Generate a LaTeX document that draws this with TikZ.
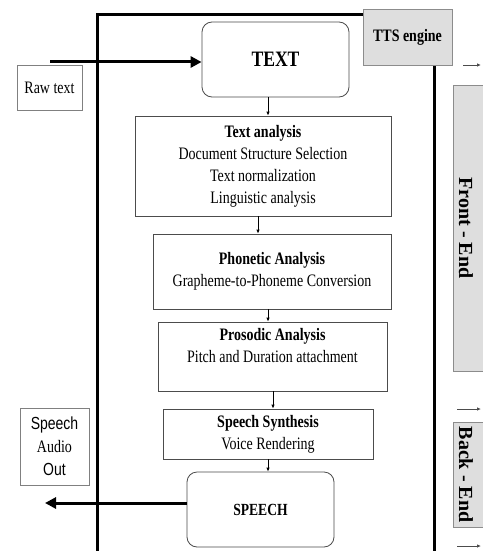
\documentclass[tikz,border=0pt]{standalone}
\usepackage{fontspec}
\setmainfont[FakeStretch=0.8]{Liberation Serif}
\newfontfamily\sansf[FakeStretch=0.8]{Liberation Sans}
\newfontfamily\sidef{Liberation Serif}
\usetikzlibrary{arrows.meta}
\begin{document}
\begin{tikzpicture}[x=1pt,y=-1pt,
  box/.style={draw=black!70,line width=0.8pt,align=center,inner sep=0pt,font=\fontsize{17.5}{22}\selectfont},
  rbox/.style={box,rounded corners=10pt},
  lightbox/.style={box,draw=black!50},
  graybox/.style={draw=black!45,fill=black!13,line width=0.8pt,inner sep=0pt},
  sidetext/.style={rotate=-90,font=\sidef\bfseries\fontsize{20}{20}\selectfont},
  thinarrow/.style={-{Latex[length=4pt,width=3.5pt]},line width=0.8pt},
  thickarrow/.style={-{Triangle[length=11pt,width=11pt]},line width=3pt},
  framestyle/.style={line width=3pt}]
\useasboundingbox (0,0) rectangle (482,551);
\fill[white] (0,0) rectangle (482,551);

% frame
\coordinate (fbl) at (97,560);
\coordinate (ftl) at (97,15);
\coordinate (fbr) at (434,560);
\node[graybox, minimum width=89pt, minimum height=56pt] (tts) at (407.5,37.5) {};
\draw[framestyle] (fbl) -- (ftl) -- (ftl -| tts.west);
\draw[framestyle] (tts.south -| fbr) -- (fbr);
\node[graybox, minimum width=89pt, minimum height=56pt, font=\bfseries\fontsize{17.5}{20}\selectfont] (tts) at (407.5,37.5) {TTS engine};

% main boxes
\node[rbox, minimum width=147pt, minimum height=75pt, font=\bfseries\fontsize{22}{24}\selectfont] (text) at (275.5,59.5) {TEXT};
\node[lightbox, minimum width=65pt, minimum height=45pt] (raw) at (49.5,87.5) {Raw text};
\node[box, minimum width=256pt, minimum height=100pt] (ta) at (263,166)
  {\textbf{Text analysis}\\Document Structure Selection\\Text normalization\\Linguistic analysis};
\node[box, minimum width=238pt, minimum height=75pt] (ph) at (272,271.5)
  {\textbf{Phonetic Analysis}\\Grapheme-to-Phoneme Conversion};
\node[box, minimum width=229pt, minimum height=69pt] (pr) at (272.5,356.5)
  {\textbf{Prosodic Analysis}\\Pitch and Duration attachment\\\mbox{}};
\node[box, minimum width=210pt, minimum height=50pt] (ss) at (268,434)
  {\textbf{Speech Synthesis}\\Voice Rendering};
\node[rbox, minimum width=147pt, minimum height=75pt, font=\bfseries\fontsize{17}{22}\selectfont] (sp) at (260.5,509.5) {SPEECH};
\node[lightbox, minimum width=69pt, minimum height=77pt, font=\fontsize{17.5}{23}\selectfont] (out) at (54.5,446.5)
  {{\sansf Speech}\\Audio\\{\sansf Out}};

% thick arrows
\coordinate (rawin) at (50,62);
\draw[thickarrow] (rawin) -- (rawin -| text.west);
\coordinate (audioout) at (45,503);
\draw[thickarrow] (sp.west |- audioout) -- (audioout);

% thin arrows
\draw[thinarrow] ([xshift=-7.5pt]text.south) -- ([xshift=5pt]ta.north);
\draw[thinarrow] ([xshift=-5pt]ta.south) -- ([xshift=-14pt]ph.north);
\draw[thinarrow] ([xshift=-4pt]ph.south) -- ([xshift=-4.5pt]pr.north);
\draw[thinarrow] ([xshift=0.5pt]pr.south) -- ([xshift=5pt]ss.north);
\draw[thinarrow] (ss.south) -- ([xshift=7.5pt]sp.north);

% right side
\node[graybox, minimum width=40pt, minimum height=286pt, anchor=north west] (fe) at (453,85) {};
\node[sidetext] (fet) at (466,228) {Front - End};
\node[graybox, minimum width=40pt, minimum height=105pt, anchor=north west] (be) at (453,422) {};
\node[sidetext] (bet) at (466,474.5) {Back - End};

\coordinate (a1s) at (463,65);  \coordinate (a1e) at (481,65);
\coordinate (a2s) at (457,409); \coordinate (a2e) at (481,409);
\coordinate (a3s) at (457,546); \coordinate (a3e) at (481,546);
\draw[thinarrow, black!70] (a1s) -- (a1e);
\draw[thinarrow, black!70] (a2s) -- (a2e);
\draw[thinarrow, black!70] (a3s) -- (a3e);
\end{tikzpicture}
\end{document}
